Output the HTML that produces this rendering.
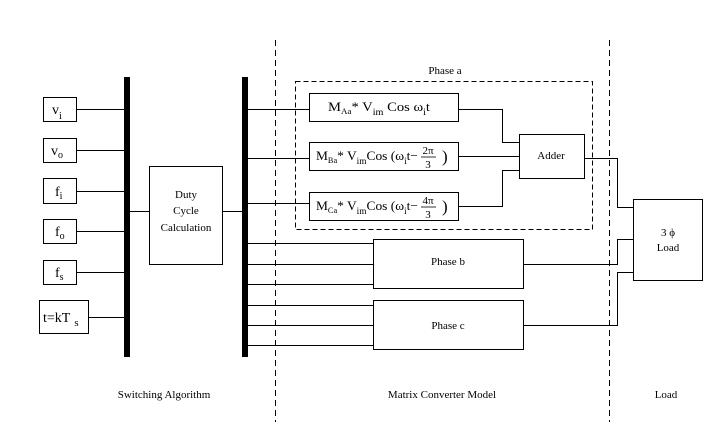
<!DOCTYPE html>
<html><head><meta charset="utf-8"><style>
html,body{margin:0;padding:0;background:#fff}
svg{display:block}
text{font-family:"Liberation Serif",serif;fill:#000}
</style></head><body>
<svg width="722" height="431" viewBox="0 0 722 431" xmlns="http://www.w3.org/2000/svg">
<g fill="none" stroke="#000" stroke-width="1">
  <line x1="275.5" y1="40" x2="275.5" y2="422" stroke-dasharray="6,4"/>
  <line x1="609.5" y1="40" x2="609.5" y2="422" stroke-dasharray="6,4"/>
  <rect x="295.5" y="81.5" width="297" height="148" stroke-dasharray="5,3"/>
  <rect x="43.5" y="97.5" width="33" height="24"/>
  <rect x="43.5" y="138.5" width="33" height="24"/>
  <rect x="43.5" y="178.5" width="33" height="25"/>
  <rect x="43.5" y="219.5" width="33" height="24"/>
  <rect x="43.5" y="260.5" width="33" height="24"/>
  <rect x="39.5" y="300.5" width="49" height="33"/>
  <path d="M76 109.5H124M76 150.5H124M76 191.5H124M76 231.5H124M76 272.5H124M88 317.5H124"/>
  <rect x="149.5" y="166.5" width="73" height="98"/>
  <path d="M130 211.5H149M222 211.5H242"/>
  <path d="M248 109.5H309M248 158.5H309M248 203.5H309M248 243.5H373M248 264.5H373M248 284.5H373M248 305.5H373M248 325.5H373M248 345.5H373"/>
  <rect x="309.5" y="93.5" width="149" height="28"/>
  <rect x="309.5" y="142.5" width="149" height="28"/>
  <rect x="309.5" y="192.5" width="149" height="28"/>
  <rect x="519.5" y="134.5" width="65" height="44"/>
  <path d="M458 109.5H502.5V142.5H519M458 156.5H519M458 206.5H502.5V170.5H519"/>
  <rect x="373.5" y="239.5" width="150" height="49"/>
  <rect x="373.5" y="300.5" width="150" height="49"/>
  <rect x="633.5" y="199.5" width="69" height="81"/>
  <path d="M584 158.5H617.5V207.5H633M523 264.5H617.5V239.5H633M523 325.5H617.5V272.5H633"/>
</g>
<rect x="124" y="77" width="6" height="280" fill="#000"/>
<rect x="242" y="77" width="6" height="280" fill="#000"/>
<g font-size="14">
  <text x="52" y="114">v<tspan font-size="10" dy="5">i</tspan></text>
  <text x="51" y="155">v<tspan font-size="10" dy="3">o</tspan></text>
  <text x="55" y="196">f<tspan font-size="10" dy="3">i</tspan></text>
  <text x="55" y="236">f<tspan font-size="10" dy="3">o</tspan></text>
  <text x="55" y="277">f<tspan font-size="10" dy="3">s</tspan></text>
  <text x="43" y="322">t=kT<tspan font-size="11" dx="4" dy="4">s</tspan></text>
</g>
<g font-size="11" text-anchor="middle">
  <text x="186" y="198">Duty</text>
  <text x="186" y="214">Cycle</text>
  <text x="186" y="231">Calculation</text>
  <text x="445" y="74">Phase a</text>
  <text x="551" y="159">Adder</text>
  <text x="448" y="265">Phase b</text>
  <text x="448" y="329">Phase c</text>
  <text x="668" y="236">3 ϕ</text>
  <text x="668" y="251">Load</text>
  <text x="164" y="398">Switching Algorithm</text>
  <text x="442" y="398">Matrix Converter Model</text>
  <text x="666" y="398">Load</text>
</g>
<g font-size="13">
  <text x="328" y="111" textLength="102" lengthAdjust="spacingAndGlyphs">M<tspan font-size="8" dy="3">Aa</tspan><tspan dy="-3">* V</tspan><tspan font-size="9" dy="4">im</tspan><tspan dy="-4"> Cos ω</tspan><tspan font-size="9" dy="4">i</tspan><tspan dy="-4">t</tspan></text>
  <text x="316" y="160" textLength="102" lengthAdjust="spacingAndGlyphs">M<tspan font-size="8" dy="3">Ba</tspan><tspan dy="-3">* V</tspan><tspan font-size="9" dy="4">im</tspan><tspan dy="-4">Cos (ω</tspan><tspan font-size="9" dy="4">i</tspan><tspan dy="-4">t−</tspan></text>
  <text x="316" y="210" textLength="102" lengthAdjust="spacingAndGlyphs">M<tspan font-size="8" dy="3">Ca</tspan><tspan dy="-3">* V</tspan><tspan font-size="9" dy="4">im</tspan><tspan dy="-4">Cos (ω</tspan><tspan font-size="9" dy="4">i</tspan><tspan dy="-4">t−</tspan></text>
</g>
<g font-size="11" text-anchor="middle">
  <text x="428" y="154">2π</text>
  <text x="428" y="168">3</text>
  <text x="428" y="204">4π</text>
  <text x="428" y="218">3</text>
</g>
<g font-size="17">
  <text x="442" y="162">)</text>
  <text x="442" y="212">)</text>
</g>
<line x1="421" y1="157" x2="436" y2="157" stroke="#000" stroke-width="0.8"/>
<line x1="421" y1="207" x2="436" y2="207" stroke="#000" stroke-width="0.8"/>
</svg>
</body></html>
